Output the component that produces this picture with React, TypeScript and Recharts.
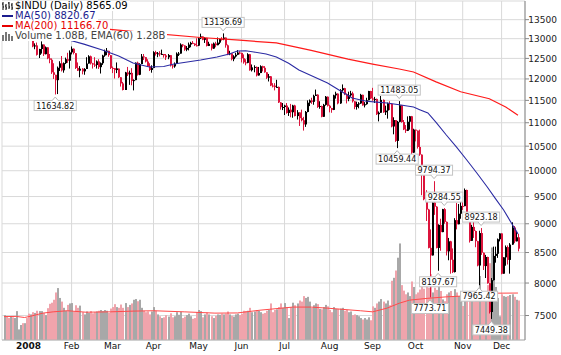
import React from "react";
import { ComposedChart, Bar, Line, XAxis, YAxis, CartesianGrid } from "recharts";

const FONT = "'DejaVu Sans', Verdana, sans-serif";

// trading sessions shown, 13 Dec 2007 .. 11 Dec 2008
const sessionMonths = [
  { year: 2007, month: 12, days: [13, 14, 17, 18, 19, 20, 21, 24, 26, 27, 28, 31] },
  { year: 2008, month: 1, days: [2, 3, 4, 7, 8, 9, 10, 11, 14, 15, 16, 17, 18, 22, 23, 24, 25, 28, 29, 30, 31] },
  { year: 2008, month: 2, days: [1, 4, 5, 6, 7, 8, 11, 12, 13, 14, 15, 19, 20, 21, 22, 25, 26, 27, 28, 29] },
  { year: 2008, month: 3, days: [3, 4, 5, 6, 7, 10, 11, 12, 13, 14, 17, 18, 19, 20, 24, 25, 26, 27, 28, 31] },
  { year: 2008, month: 4, days: [1, 2, 3, 4, 7, 8, 9, 10, 11, 14, 15, 16, 17, 18, 21, 22, 23, 24, 25, 28, 29, 30] },
  { year: 2008, month: 5, days: [1, 2, 5, 6, 7, 8, 9, 12, 13, 14, 15, 16, 19, 20, 21, 22, 23, 27, 28, 29, 30] },
  { year: 2008, month: 6, days: [2, 3, 4, 5, 6, 9, 10, 11, 12, 13, 16, 17, 18, 19, 20, 23, 24, 25, 26, 27, 30] },
  { year: 2008, month: 7, days: [1, 2, 3, 7, 8, 9, 10, 11, 14, 15, 16, 17, 18, 21, 22, 23, 24, 25, 28, 29, 30, 31] },
  { year: 2008, month: 8, days: [1, 4, 5, 6, 7, 8, 11, 12, 13, 14, 15, 18, 19, 20, 21, 22, 25, 26, 27, 28, 29] },
  { year: 2008, month: 9, days: [2, 3, 4, 5, 8, 9, 10, 11, 12, 15, 16, 17, 18, 19, 22, 23, 24, 25, 26, 29, 30] },
  { year: 2008, month: 10, days: [1, 2, 3, 6, 7, 8, 9, 10, 13, 14, 15, 16, 17, 20, 21, 22, 23, 24, 27, 28, 29, 30, 31] },
  { year: 2008, month: 11, days: [3, 4, 5, 6, 7, 10, 11, 12, 13, 14, 17, 18, 19, 20, 21, 24, 25, 26, 28] },
  { year: 2008, month: 12, days: [1, 2, 3, 4, 5, 8, 9, 10, 11] },
];

const monthLabels = ["2008", "Feb", "Mar", "Apr", "May", "Jun", "Jul", "Aug", "Sep", "Oct", "Nov", "Dec"];

const priorClose = 13473;

const closes = [
  13518, 13339, 13167, 13232, 13207, 13245, 13450, 13550, 13551, 13359, 13365, 13265,
  13044, 13057, 12800, 12827, 12589, 12735, 12853, 12606, 12778, 12501, 12466, 12159, 12099, 11971, 12270, 12378, 12207, 12383, 12480, 12442, 12650,
  12743, 12635, 12265, 12200, 12247, 12182, 12240, 12373, 12552, 12377, 12348, 12337, 12427, 12284, 12381, 12570, 12685, 12694, 12582, 12266,
  12259, 12214, 12255, 12040, 11894, 11740, 12157, 12110, 12146, 11951, 11972, 12393, 12100, 12361, 12549, 12533, 12423, 12302, 12216, 12263,
  12654, 12609, 12626, 12609, 12612, 12576, 12527, 12582, 12325, 12302, 12362, 12619, 12620, 12849, 12825, 12720, 12763, 12849, 12892, 12872, 12831, 12820,
  13010, 13058, 12970, 13021, 12814, 12867, 12746, 12876, 12832, 12898, 12993, 12987, 13028, 12829, 12601, 12626, 12480, 12548, 12591, 12646, 12638,
  12504, 12403, 12390, 12604, 12210, 12280, 12290, 12084, 12142, 12307, 12269, 12160, 12029, 12063, 11843, 11842, 11807, 11812, 11453, 11347, 11350,
  11382, 11216, 11289, 11232, 11384, 11147, 11229, 11101, 11055, 10963, 11239, 11447, 11497, 11467, 11603, 11632, 11349, 11371, 11131, 11398, 11584, 11378,
  11326, 11284, 11616, 11656, 11431, 11734, 11782, 11642, 11533, 11616, 11660, 11479, 11349, 11417, 11430, 11628, 11386, 11413, 11503, 11715, 11544,
  11517, 11533, 11188, 11221, 11511, 11231, 11269, 11434, 11422, 10918, 11059, 10610, 11020, 11388, 11016, 10854, 10825, 11022, 11143, 10365, 10851,
  10831, 10483, 10325, 9955, 9447, 9258, 8579, 8451, 9388, 9311, 8578, 8979, 8852, 9265, 9034, 8519, 8691, 8379, 8176, 9065, 8991, 9181, 9325,
  9320, 9625, 9139, 8696, 8944, 8871, 8694, 8283, 8835, 8497, 8274, 8425, 7997, 7552, 8046, 8443, 8479, 8727, 8829,
  8149, 8419, 8592, 8376, 8635, 8934, 8691, 8761, 8565.09,
];

const highs = [
  13560, 13518, 13339, 13330, 13290, 13280, 13460, 13560, 13580, 13550, 13420, 13370,
  13280, 13140, 13060, 12880, 12900, 12740, 12930, 12850, 12800, 12780, 12610, 12500, 12380, 12100, 12300, 12430, 12560, 12400, 12520, 12640, 12700,
  12800, 12750, 12630, 12400, 12310, 12260, 12260, 12530, 12580, 12570, 12390, 12530, 12450, 12480, 12400, 12590, 12720, 12760, 12690, 12580,
  12300, 12260, 12400, 12250, 12040, 11930, 12170, 12290, 12200, 12260, 11990, 12400, 12420, 12380, 12610, 12610, 12530, 12480, 12380, 12330,
  12680, 12690, 12660, 12680, 12720, 12610, 12610, 12610, 12580, 12340, 12400, 12650, 12660, 12880, 12860, 12830, 12810, 12900, 12920, 12940, 12880, 13010,
  13030, 13130, 13060, 13040, 13020, 12920, 12870, 12900, 12920, 13030, 13000, 13040, 13136.69, 13030, 12850, 12690, 12630, 12580, 12640, 12710, 12680,
  12640, 12600, 12480, 12630, 12610, 12350, 12330, 12300, 12290, 12330, 12320, 12310, 12160, 12120, 12070, 11900, 11900, 11980, 11820, 11460, 11440,
  11400, 11440, 11340, 11420, 11400, 11400, 11280, 11230, 11290, 11130, 11260, 11500, 11520, 11560, 11630, 11750, 11640, 11480, 11380, 11420, 11600, 11590,
  11400, 11330, 11630, 11700, 11660, 11760, 11870, 11790, 11660, 11700, 11720, 11700, 11480, 11470, 11460, 11650, 11630, 11460, 11560, 11720, 11720,
  11790, 11580, 11540, 11250, 11600, 11520, 11380, 11450, 11480, 11430, 11120, 11060, 11040, 11483.05, 11390, 11060, 10950, 11140, 11150, 11150, 10870,
  10850, 10830, 10850, 10330, 10000, 9620, 9270, 8900, 9390, 9794.37, 9320, 8990, 9090, 9270, 9284.55, 9040, 8750, 8700, 8570, 9100, 9380, 9360, 9400,
  9400, 9653, 9630, 9140, 8980, 9050, 8880, 8700, 8876, 8923.18, 8500, 8460, 8430, 8000, 8080, 8600, 8600, 8740, 8830,
  8830, 8420, 8620, 8620, 8660, 9026, 8960, 8870, 8820,
];

const lows = [
  13340, 13310, 13140, 13110, 13120, 13130, 13240, 13450, 13480, 13350, 13270, 13250,
  12990, 12990, 12780, 12730, 12570, 12510, 12620, 12560, 12600, 12480, 12380, 12120, 12000, 11634.82, 11645, 12190, 12180, 12150, 12360, 12390, 12250,
  12600, 12600, 12240, 12190, 12040, 12110, 12100, 12240, 12370, 12350, 12250, 12290, 12250, 12240, 12130, 12340, 12540, 12580, 12540, 12240,
  12140, 12010, 12140, 12020, 11820, 11730, 11740, 12070, 11860, 11850, 11730, 11970, 12080, 12090, 12360, 12460, 12400, 12290, 12190, 12150,
  12260, 12570, 12530, 12550, 12590, 12520, 12460, 12480, 12300, 12250, 12270, 12360, 12560, 12620, 12780, 12690, 12680, 12700, 12780, 12860, 12810, 12800,
  12810, 12990, 12960, 12890, 12800, 12810, 12700, 12740, 12780, 12830, 12860, 12950, 12960, 12770, 12580, 12580, 12450, 12430, 12520, 12580, 12600,
  12400, 12370, 12330, 12380, 12200, 12180, 12160, 12060, 12080, 12140, 12180, 12150, 12000, 11940, 11830, 11800, 11730, 11800, 11440, 11290, 11280,
  11170, 11200, 11150, 11120, 11110, 11140, 11070, 10930, 11030, 10830, 10910, 11230, 11370, 11420, 11400, 11600, 11330, 11310, 11120, 11130, 11380, 11360,
  11230, 11220, 11280, 11540, 11410, 11420, 11700, 11620, 11430, 11480, 11580, 11450, 11300, 11290, 11320, 11420, 11380, 11340, 11400, 11500, 11530,
  11490, 11440, 11170, 11030, 11220, 11220, 11170, 11090, 11280, 10900, 10750, 10590, 10459.44, 11010, 11000, 10840, 10780, 10820, 10850, 10320, 10360,
  10600, 10450, 10300, 9525, 9430, 9050, 8570, 7773.71, 8450, 9160, 8570, 8197.67, 8530, 8850, 9000, 8450, 8370, 8150, 8160, 8170, 8900, 8990, 9090,
  9250, 9320, 9130, 8670, 8700, 8750, 8590, 8270, 7965.42, 8460, 8210, 8080, 7990, 7530, 7449.38, 8040, 8330, 8410, 8690,
  8140, 8150, 8280, 8300, 8150, 8630, 8660, 8690, 8520,
];

// volume, millions of shares
const volumes = [
  680, 650, 600, 640, 620, 600, 790, 290, 410, 460, 460, 600,
  720, 700, 760, 740, 800, 790, 790, 740, 680, 870, 990, 1020, 1100, 1300, 1420, 1150, 1050, 880, 800, 960, 1000,
  1010, 780, 950, 880, 940, 760, 700, 780, 740, 790, 730, 760, 780, 800, 820, 790, 820, 800, 740, 860,
  900, 980, 900, 880, 970, 880, 1010, 900, 960, 1000, 1100, 1120, 1060, 1100, 880, 800, 760, 780, 700, 780,
  900, 800, 700, 650, 600, 620, 680, 640, 730, 620, 650, 760, 690, 770, 600, 640, 680, 720, 650, 580, 600, 760,
  820, 790, 620, 700, 750, 700, 650, 600, 660, 700, 690, 720, 700, 720, 780, 700, 660, 640, 700, 720, 680,
  720, 800, 790, 800, 880, 760, 780, 820, 800, 760, 720, 740, 800, 820, 1000, 760, 820, 840, 900, 1000, 880,
  1010, 900, 600, 900, 1020, 950, 1000, 1080, 1050, 1200, 1150, 1180, 1050, 880, 950, 1000, 980, 850, 840, 900, 960, 920,
  820, 760, 900, 850, 850, 860, 880, 800, 820, 760, 780, 680, 700, 680, 650, 600, 560, 600, 560, 620, 540,
  920, 880, 1000, 1050, 1120, 1050, 1000, 1080, 950, 1620, 1700, 1900, 2250, 2640, 1500, 1350, 1250, 1300, 1200, 1600, 1450,
  1250, 1300, 1380, 1480, 1400, 1520, 1430, 1800, 1300, 1430, 1370, 1520, 1340, 1110, 1060, 1250, 1300, 1340, 1200, 1390, 1300, 1200, 1150,
  930, 1200, 1250, 1340, 1150, 1060, 1100, 1200, 1750, 1340, 1110, 1300, 1500, 2100, 2530, 2000, 1450, 1150, 650,
  1250, 1200, 1180, 1200, 1230, 1250, 1180, 1100, 1080,
];

// [session index, value]
const ma50Points: [number, number][] = [
  [0, 13420], [10, 13330], [20, 13180], [30, 12990], [39, 12860], [48, 12710], [56, 12560], [63, 12386],
  [71, 12288], [78, 12300], [83, 12361], [96, 12460], [104, 12535], [110, 12610], [114, 12685], [118, 12690],
  [122, 12660], [128, 12610], [133, 12535], [139, 12380], [144, 12215], [151, 12060], [158, 11903], [164, 11730],
  [170, 11554], [177, 11480], [182, 11460], [187, 11440], [193, 11400], [200, 11350], [203, 11290], [207, 11215],
  [211, 11010], [216, 10735], [221, 10480], [226, 10215], [231, 9950], [236, 9682], [240, 9460], [244, 9249],
  [248, 9000], [251, 8820.67],
];

const ma200Points: [number, number][] = [
  [0, 13440], [12, 13390], [25, 13340], [44, 13283], [70, 13150], [96, 13030], [115, 12960], [133, 12890],
  [150, 12700], [168, 12480], [180, 12360], [193, 12240], [200, 12168], [211, 11930], [223, 11698], [237, 11538],
  [245, 11350], [251, 11166.7],
];

const volEmaPoints: [number, number][] = [
  [0, 640], [6, 645], [10, 615], [13, 650], [19, 735], [24, 770], [31, 800], [40, 760], [52, 770], [63, 790],
  [73, 800], [88, 770], [103, 735], [114, 740], [125, 815], [141, 900], [150, 900], [158, 870], [174, 800],
  [180, 770], [187, 870], [193, 1005], [198, 1090], [207, 1140], [216, 1180], [223, 1200], [239, 1280], [251, 1284],
];

const swingLabels: { i: number; v: number; side: "high" | "low" }[] = [
  { i: 25, v: 11634.82, side: "low" },
  { i: 107, v: 13136.69, side: "high" },
  { i: 192, v: 10459.44, side: "low" },
  { i: 193, v: 11483.05, side: "high" },
  { i: 208, v: 7773.71, side: "low" },
  { i: 210, v: 9794.37, side: "high" },
  { i: 212, v: 8197.67, side: "low" },
  { i: 215, v: 9284.55, side: "high" },
  { i: 232, v: 7965.42, side: "low" },
  { i: 233, v: 8923.18, side: "high" },
  { i: 238, v: 7449.38, side: "low" },
];

const priceTicks = [7500, 8000, 8500, 9000, 9500, 10000, 10500, 11000, 11500, 12000, 12500, 13000, 13500];

const pad = (n: number) => String(n).padStart(2, "0");
const dates = sessionMonths.flatMap((s) => s.days.map((d) => `${s.year}-${pad(s.month)}-${pad(d)}`));
const monthTicks = sessionMonths.slice(1).map((s) => `${s.year}-${pad(s.month)}-${pad(s.days[0])}`);

const ma50 = new Map(ma50Points);
const ma200 = new Map(ma200Points);
const volEma = new Map(volEmaPoints);

const rows = dates.map((date, i) => {
  const prev = i === 0 ? priorClose : closes[i - 1];
  const sw = swingLabels.find((s) => s.i === i);
  return {
    date,
    range: [lows[i], highs[i]],
    high: highs[i],
    low: lows[i],
    open: prev,
    close: closes[i],
    up: closes[i] >= prev,
    volume: volumes[i],
    ma50: ma50.get(i) ?? null,
    ma200: ma200.get(i) ?? null,
    volEma: volEma.get(i) ?? null,
    swing: sw ? sw.v : null,
    swingSide: sw ? sw.side : null,
  };
});

const Candle = (p: any) => {
  const { x, y, width, height, payload } = p;
  if (!(height > 0)) return <g />;
  const cx = Math.floor(x + width / 2);
  const lh = Math.log(payload.high);
  const ll = Math.log(payload.low);
  const py = (v: number) => {
    const c = Math.min(payload.high, Math.max(payload.low, v));
    return y + (height * (lh - Math.log(c))) / (lh - ll || 1);
  };
  const color = payload.up ? "#000000" : "#dc143c";
  const top = py(Math.max(payload.open, payload.close));
  const bot = py(Math.min(payload.open, payload.close));
  return (
    <g>
      <line x1={cx + 0.5} x2={cx + 0.5} y1={y} y2={y + height} stroke={color} strokeWidth={1} />
      <rect x={cx} y={top} width={2} height={Math.max(1, bot - top)} fill={color} />
    </g>
  );
};

const VolumeBar = (p: any) => {
  const { x, y, width, height, payload } = p;
  if (!(height > 0)) return <g />;
  const cx = Math.floor(x + width / 2);
  return <rect x={cx} y={y} width={2} height={height} fill={payload.up ? "#a8a8a8" : "#f0a4ac"} />;
};

const SwingLabel = (p: any) => {
  const { cx, cy, payload, index } = p;
  if (payload == null || payload.swing == null || cy == null || isNaN(cy)) return <g key={index} />;
  const text = payload.swing.toFixed(2);
  const w = (text.length - 1) * 5.09 + 2.54 + 4;
  const h = 10;
  const high = payload.swingSide === "high";
  const boxY = high ? cy - 6 - h : cy + 6;
  const edge = high ? boxY + h : boxY;
  const tip = high ? edge + 3.5 : edge - 3.5;
  return (
    <g key={index}>
      <rect x={cx - w / 2} y={boxY} width={w} height={h} fill="#fff" stroke="#c4c4c4" strokeWidth={1} />
      <line x1={cx - 2.5} x2={cx + 2.5} y1={edge} y2={edge} stroke="#fff" strokeWidth={1.5} />
      <path d={`M${cx - 3},${edge} L${cx},${tip} L${cx + 3},${edge}`} fill="#fff" stroke="#b8b8b8" strokeWidth={1} />
      <text x={cx} y={boxY + 8} textAnchor="middle" fontSize={8} fontFamily={FONT} fill="#111">
        {text}
      </text>
    </g>
  );
};

const PriceTick = (p: any) => (
  <text x={557} y={p.y + 3.5} textAnchor="end" fontSize={9} fontFamily={FONT} fill="#222">
    {p.payload.value}
  </text>
);

const MonthTick = (p: any) => {
  const idx = monthTicks.indexOf(p.payload.value);
  const first = idx === 0;
  return (
    <text x={p.x} y={349} textAnchor="middle" fontSize={9} fontFamily={FONT} fontWeight={first ? "bold" : "normal"} fill="#111">
      {monthLabels[idx]}
    </text>
  );
};

const fmtB = (v: number) => (v / 1000).toFixed(2) + "B";
const last = rows.length - 1;

const legendRows = [
  { icon: "ohlc", color: "#000", text: `$INDU (Daily) ${closes[last].toFixed(2)}` },
  { icon: "line", color: "#1c1c8e", text: `MA(50) ${ma50Points[ma50Points.length - 1][1].toFixed(2)}` },
  { icon: "line", color: "#e60000", text: `MA(200) ${ma200Points[ma200Points.length - 1][1].toFixed(2)}` },
  {
    icon: "vol",
    color: "#444",
    text: `Volume ${fmtB(volumes[last])}, EMA(60) ${fmtB(volEmaPoints[volEmaPoints.length - 1][1])}`,
  },
];

const LegendIcon = ({ kind, color }: { kind: string; color: string }) => {
  if (kind === "line") {
    return (
      <svg width={14} height={10}>
        <rect x={2} y={4} width={11} height={2} fill={color} />
      </svg>
    );
  }
  if (kind === "vol") {
    return (
      <svg width={14} height={10}>
        <rect x={2} y={4} width={2} height={6} fill="#777" />
        <rect x={5} y={1} width={2} height={9} fill="#777" />
        <rect x={8} y={3} width={2} height={7} fill="#777" />
        <rect x={11} y={5} width={2} height={5} fill="#777" />
      </svg>
    );
  }
  return (
    <svg width={14} height={10}>
      <path d="M3,1 V9 M2,3 H3 M3,6 H4 M6,3 V9 M5,5 H6 M6,7 H7 M9,1 V8 M8,2 H9 M9,6 H10 M12,2 V9 M11,4 H12 M12,7 H13" stroke="#000" strokeWidth={1} fill="none" />
    </svg>
  );
};

export default function App() {
  return (
    <div style={{ position: "relative", width: 561, height: 355, background: "#fff", fontFamily: FONT }}>
      <style>{"body{margin:0;background:#fff}"}</style>
      <ComposedChart width={561} height={355} data={rows} margin={{ top: 1, right: 2, bottom: 0, left: 2 }}>
        <CartesianGrid xAxisId="p" yAxisId="p" stroke="#d9d9d9" />
        <XAxis
          xAxisId="p"
          dataKey="date"
          ticks={monthTicks}
          interval={0}
          height={15}
          padding={{ left: 1, right: 6 }}
          tickLine={false}
          axisLine={{ stroke: "#b4b4b4" }}
          tick={<MonthTick />}
        />
        <XAxis xAxisId="v" dataKey="date" hide padding={{ left: 1, right: 6 }} />
        <YAxis
          yAxisId="p"
          orientation="right"
          scale="log"
          domain={[7144, 14010]}
          allowDataOverflow
          ticks={priceTicks}
          interval={0}
          width={34}
          tickSize={4}
          tickLine={{ stroke: "#888" }}
          axisLine={{ stroke: "#888" }}
          tick={<PriceTick />}
        />
        <YAxis
          yAxisId="v"
          orientation="left"
          width={0}
          domain={[0, 9270]}
          allowDataOverflow
          tick={false}
          tickLine={false}
          axisLine={{ stroke: "#c4c4c4" }}
        />
        <Bar xAxisId="v" yAxisId="v" dataKey="volume" barCategoryGap={0} shape={<VolumeBar />} isAnimationActive={false} />
        <Line
          xAxisId="p"
          yAxisId="v"
          dataKey="volEma"
          stroke="#ff4a4a"
          strokeWidth={1}
          dot={false}
          activeDot={false}
          connectNulls
          isAnimationActive={false}
        />
        <Bar xAxisId="p" yAxisId="p" dataKey="range" barCategoryGap={0} shape={<Candle />} isAnimationActive={false} />
        <Line
          xAxisId="p"
          yAxisId="p"
          dataKey="ma200"
          stroke="#ff1a1a"
          strokeWidth={1.2}
          dot={false}
          activeDot={false}
          connectNulls
          isAnimationActive={false}
        />
        <Line
          xAxisId="p"
          yAxisId="p"
          dataKey="ma50"
          stroke="#2b2ba3"
          strokeWidth={1.1}
          dot={false}
          activeDot={false}
          connectNulls
          isAnimationActive={false}
        />
        <Line
          xAxisId="p"
          yAxisId="p"
          dataKey="swing"
          stroke="none"
          dot={SwingLabel}
          activeDot={false}
          isAnimationActive={false}
        />
      </ComposedChart>
      <div style={{ position: "absolute", left: 0, top: 1, fontSize: 10, lineHeight: "10px" }}>
        {legendRows.map((r, i) => (
          <div
            key={i}
            style={{
              display: "flex",
              alignItems: "center",
              height: 10,
              width: "fit-content",
              background: "#fff",
              paddingRight: 2,
              color: r.color,
              whiteSpace: "nowrap",
            }}
          >
            <LegendIcon kind={r.icon} color={r.color} />
            <span style={{ marginLeft: 1 }}>{r.text}</span>
          </div>
        ))}
      </div>
    </div>
  );
}
